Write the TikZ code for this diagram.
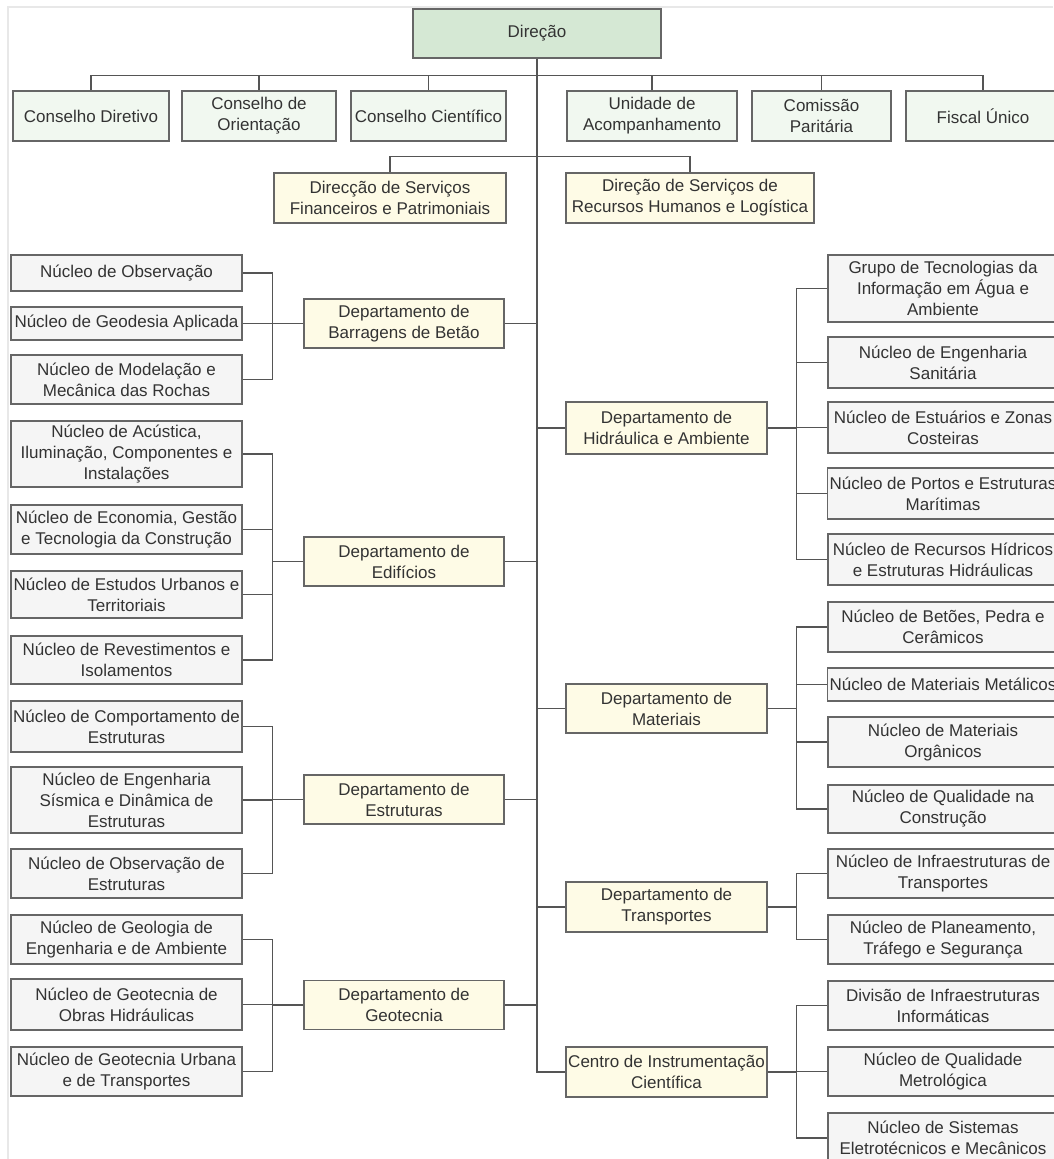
\documentclass[tikz,border=0pt]{standalone}
\usepackage{fontspec}
\setmainfont{Liberation Sans}
\usepackage{xcolor}
\usepackage{tikz}

\definecolor{dirgreen}{HTML}{D5E8D4}
\definecolor{boardgreen}{HTML}{F1F8F0}
\definecolor{deptyellow}{HTML}{FEFBE6}
\definecolor{nucgray}{HTML}{F5F5F5}
\definecolor{boxline}{HTML}{666666}
\definecolor{linkline}{HTML}{555555}
\definecolor{txtgray}{HTML}{333333}
\definecolor{framegray}{HTML}{E8E8E8}

\begin{document}
\begin{tikzpicture}[
    x=0.5pt,
    y=-0.5pt,
    line join=miter,
    font=\fontsize{8.5}{10.5}\selectfont
]

\tikzstyle{orgbox}=[
    draw=boxline,
    line width=0.7pt,
    rectangle,
    align=center,
    inner sep=1pt,
    text=txtgray
]
\tikzstyle{dirbox}=[orgbox, fill=dirgreen, minimum width=124pt, minimum height=24.5pt]
\tikzstyle{boardbox}=[orgbox, fill=boardgreen, minimum height=25pt]
\tikzstyle{deptbox}=[orgbox, fill=deptyellow, minimum height=24.5pt]
\tikzstyle{nucbox}=[orgbox, fill=nucgray]
\tikzstyle{conn}=[draw=linkline, line width=0.75pt]

\useasboundingbox (0,0) rectangle (1053,1159);
% faint frame of the screenshot
\draw[framegray, line width=0.6pt] (1053,7) -- (8,7) -- (8,1159);

% top
\node[dirbox] (dir) at (537,33.5) {Direção};

\node[boardbox, minimum width=78pt] (cd) at (91,116) {Conselho Diretivo};
\node[boardbox, minimum width=77pt] (co) at (259,116) {Conselho de\\Orientação};
\node[boardbox, minimum width=77.5pt] (cc) at (428.5,116) {Conselho Científico};
\node[boardbox, minimum width=85pt] (ua) at (652,116) {Unidade de\\Acompanhamento};
\node[boardbox, minimum width=69.5pt] (cp) at (821.5,116) {Comissão\\Paritária};
\node[boardbox, minimum width=77pt] (fu) at (983,116) {Fiscal Único};

\node[deptbox, minimum width=116pt, minimum height=25pt] (dsfp) at (390,198) {Direcção de Serviços\\Financeiros e Patrimoniais};
\node[deptbox, minimum width=124pt, minimum height=25pt] (dsrh) at (690,198) {Direção de Serviços de\\Recursos Humanos e Logística};

% departments, left
\node[deptbox, minimum width=100pt] (dbb) at (404,323.5) {Departamento de\\Barragens de Betão};
\node[deptbox, minimum width=100pt] (ded) at (404,561.5) {Departamento de\\Edifícios};
\node[deptbox, minimum width=100pt] (dest) at (404,799.5) {Departamento de\\Estruturas};
\node[deptbox, minimum width=100pt] (dgeo) at (404,1005) {Departamento de\\Geotecnia};

% departments, right
\node[deptbox, minimum width=100.5pt, minimum height=26pt] (dha) at (666.5,428) {Departamento de\\Hidráulica e Ambiente};
\node[deptbox, minimum width=100.5pt] (dmat) at (666.5,708.5) {Departamento de\\Materiais};
\node[deptbox, minimum width=100.5pt, minimum height=25pt] (dtra) at (666.5,907) {Departamento de\\Transportes};
\node[deptbox, minimum width=100.5pt, minimum height=25pt] (cic) at (666.5,1072) {Centro de Instrumentação\\Científica};

% nucleos, left
\node[nucbox, minimum width=115.5pt, minimum height=18pt] (nobs) at (126.5,273) {Núcleo de Observação};
\node[nucbox, minimum width=115.5pt, minimum height=16.5pt] (ngeod) at (126.5,323.5) {Núcleo de Geodesia Aplicada};
\node[nucbox, minimum width=115.5pt, minimum height=24.5pt] (nmod) at (126.5,379.5) {Núcleo de Modelação e\\Mecânica das Rochas};

\node[nucbox, minimum width=115.5pt, minimum height=33pt] (nacu) at (126.5,454) {Núcleo de Acústica,\\Iluminação, Componentes e\\Instalações};
\node[nucbox, minimum width=115.5pt, minimum height=24.5pt] (neco) at (126.5,529.5) {Núcleo de Economia, Gestão\\e Tecnologia da Construção};
\node[nucbox, minimum width=115.5pt, minimum height=23.5pt] (nurb) at (126.5,594.5) {Núcleo de Estudos Urbanos e\\Territoriais};
\node[nucbox, minimum width=115.5pt, minimum height=24pt] (nrev) at (126.5,660) {Núcleo de Revestimentos e\\Isolamentos};

\node[nucbox, minimum width=115.5pt, minimum height=25.5pt] (ncomp) at (126.5,726.5) {Núcleo de Comportamento de\\Estruturas};
\node[nucbox, minimum width=115.5pt, minimum height=33pt] (nsism) at (126.5,800) {Núcleo de Engenharia\\Sísmica e Dinâmica de\\Estruturas};
\node[nucbox, minimum width=115.5pt, minimum height=24.5pt] (nobse) at (126.5,873.5) {Núcleo de Observação de\\Estruturas};

\node[nucbox, minimum width=115.5pt, minimum height=24.5pt] (ngeol) at (126.5,939.5) {Núcleo de Geologia de\\Engenharia e de Ambiente};
\node[nucbox, minimum width=115.5pt, minimum height=25.5pt] (ngobr) at (126.5,1004.5) {Núcleo de Geotecnia de\\Obras Hidráulicas};
\node[nucbox, minimum width=115.5pt, minimum height=24.5pt] (ngurb) at (126.5,1071.5) {Núcleo de Geotecnia Urbana\\e de Transportes};

% nucleos, right
\node[nucbox, minimum width=115pt, minimum height=33.5pt] (gti) at (943,288.5) {Grupo de Tecnologias da\\Informação em Água e\\Ambiente};
\node[nucbox, minimum width=115pt, minimum height=25.5pt] (nsan) at (943,362.5) {Núcleo de Engenharia\\Sanitária};
\node[nucbox, minimum width=115pt, minimum height=25.5pt] (nest) at (943,427.5) {Núcleo de Estuários e Zonas\\Costeiras};
\node[nucbox, minimum width=115pt, minimum height=25.5pt] (npor) at (943,493.5) {Núcleo de Portos e Estruturas\\Marítimas};
\node[nucbox, minimum width=115pt, minimum height=25.5pt] (nrh) at (943,559.5) {Núcleo de Recursos Hídricos\\e Estruturas Hidráulicas};

\node[nucbox, minimum width=115pt, minimum height=25pt] (nbet) at (943,627) {Núcleo de Betões, Pedra e\\Cerâmicos};
\node[nucbox, minimum width=115pt, minimum height=16.5pt] (nmet) at (943,684.5) {Núcleo de Materiais Metálicos};
\node[nucbox, minimum width=115pt, minimum height=25pt] (norg) at (943,742) {Núcleo de Materiais\\Orgânicos};
\node[nucbox, minimum width=115pt, minimum height=24pt] (nqc) at (943,809) {Núcleo de Qualidade na\\Construção};

\node[nucbox, minimum width=115pt, minimum height=24.5pt] (nitr) at (943,873.5) {Núcleo de Infraestruturas de\\Transportes};
\node[nucbox, minimum width=115pt, minimum height=24.5pt] (npla) at (943,939.5) {Núcleo de Planeamento,\\Tráfego e Segurança};

\node[nucbox, minimum width=115pt, minimum height=24.5pt] (dinf) at (943,1005.5) {Divisão de Infraestruturas\\Informáticas};
\node[nucbox, minimum width=115pt, minimum height=24.5pt] (nmetr) at (943,1071.5) {Núcleo de Qualidade\\Metrológica};
\node[nucbox, minimum width=115pt, minimum height=25pt] (nsis) at (943,1138) {Núcleo de Sistemas\\Eletrotécnicos e Mecânicos};

% links from the direction
\draw[conn] (dir.south) -- ++(0,17) -| (cd.north)
            (dir.south) -- ++(0,17) -| (co.north)
            (dir.south) -- ++(0,17) -| (cc.north)
            (dir.south) -- ++(0,17) -| (ua.north)
            (dir.south) -- ++(0,17) -| (cp.north)
            (dir.south) -- ++(0,17) -| (fu.north);

\draw[conn] (dsfp.north) -- ++(0,-16) -| (dir.south)
            (dsrh.north) -- ++(0,-16) -| (dir.south);

\draw[conn] (dir.south) |- (dbb.east)
            (dir.south) |- (ded.east)
            (dir.south) |- (dest.east)
            (dir.south) |- (dgeo.east)
            (dir.south) |- (dha.west)
            (dir.south) |- (dmat.west)
            (dir.south) |- (dtra.west)
            (dir.south) |- (cic.west);

% left groups
\draw[conn] (dbb.west) -- ++(-31,0) |- (nobs.east)
            (dbb.west) -- ++(-31,0) |- (ngeod.east)
            (dbb.west) -- ++(-31,0) |- (nmod.east);

\draw[conn] (ded.west) -- ++(-31,0) |- (nacu.east)
            (ded.west) -- ++(-31,0) |- (neco.east)
            (ded.west) -- ++(-31,0) |- (nurb.east)
            (ded.west) -- ++(-31,0) |- (nrev.east);

\draw[conn] (dest.west) -- ++(-31,0) |- (ncomp.east)
            (dest.west) -- ++(-31,0) |- (nsism.east)
            (dest.west) -- ++(-31,0) |- (nobse.east);

\draw[conn] (dgeo.west) -- ++(-31,0) |- (ngeol.east)
            (dgeo.west) -- ++(-31,0) |- (ngobr.east)
            (dgeo.west) -- ++(-31,0) |- (ngurb.east);

% right groups
\draw[conn] (dha.east) -- ++(29,0) |- (gti.west)
            (dha.east) -- ++(29,0) |- (nsan.west)
            (dha.east) -- ++(29,0) |- (nest.west)
            (dha.east) -- ++(29,0) |- (npor.west)
            (dha.east) -- ++(29,0) |- (nrh.west);

\draw[conn] (dmat.east) -- ++(29,0) |- (nbet.west)
            (dmat.east) -- ++(29,0) |- (nmet.west)
            (dmat.east) -- ++(29,0) |- (norg.west)
            (dmat.east) -- ++(29,0) |- (nqc.west);

\draw[conn] (dtra.east) -- ++(29,0) |- (nitr.west)
            (dtra.east) -- ++(29,0) |- (npla.west);

\draw[conn] (cic.east) -- ++(29,0) |- (dinf.west)
            (cic.east) -- ++(29,0) |- (nmetr.west)
            (cic.east) -- ++(29,0) |- (nsis.west);

\end{tikzpicture}
\end{document}
